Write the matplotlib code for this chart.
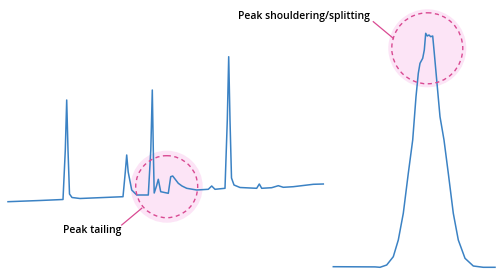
import matplotlib
matplotlib.use("Agg")
import matplotlib.pyplot as plt
from matplotlib.patches import Circle

# Left chromatogram trace (x, y in image units, y downward)
left_x = [8, 40, 63, 65.3, 66.7, 68, 69.5, 72, 80, 123, 125.3, 126.7, 128.2, 131.7, 136.7, 148.3,
          150.8, 152.3, 153.3, 154.2, 156.5, 158.3, 160.7, 168.3,
          170.7, 172.7, 175, 178.3, 182, 186.7, 196.7, 208.3, 211.7, 215, 225,
          227.3, 228.7, 230, 231.5, 234, 240, 256.7, 259.3, 261.7, 271.7, 278.3,
          283.3, 293.3, 313.3, 323.3]
left_y = [201.7, 200.5, 199.5, 150, 100, 150, 194, 197.5, 198.5, 196.7, 172, 155, 172, 190, 195, 195,
          150, 90, 150, 193, 186, 179.3, 191.7, 193.3,
          176.7, 176, 179, 183.3, 186, 188.3, 190, 189.3, 186, 189.3, 188.3,
          120, 56.7, 120, 178, 185, 187.5, 188.3, 184, 188.3, 187.7, 185.7,
          187.3, 186.7, 184.3, 184]

# Right single peak with shoulder/split top
right_x = [333.3, 375, 380, 386.7, 393.3, 398.3, 403.3, 408.3, 412.7, 416, 418.3, 420, 422.7,
           424.3, 425.7, 427.3, 429, 430.7, 432.7, 434.3, 436.7, 440, 444, 448.3,
           453.3, 458.3, 465, 473.3, 483.3, 495]
right_y = [266.7, 266.9, 267.3, 265, 256.7, 240, 213.3, 173.3, 140, 96.7, 73.3, 63.3, 58.3,
           50, 33.3, 36, 35, 36.7, 36, 53.3, 80, 116.7, 140, 173.3,
           213.3, 240, 258.3, 266, 267.3, 267.3]

labels = ["Peak tailing", "Peak shouldering/splitting"]

LINE = "#3b82c4"
FILL = "#fce4f6"
DASH = "#d94a92"

fig = plt.figure(figsize=(5, 2.8), dpi=100)
ax = fig.add_axes([0, 0, 1, 1])
ax.set_xlim(0, 500)
ax.set_ylim(280, 0)
ax.axis("off")

# highlight circles
for (cx, cy, r_fill, r_dash) in [(166.7, 186.7, 36, 31), (427.3, 48.3, 39, 35.5)]:
    ax.add_patch(Circle((cx, cy), r_fill, facecolor=FILL, edgecolor="none", zorder=1))
    ax.add_patch(Circle((cx, cy), r_dash, facecolor="none", edgecolor=DASH,
                        linestyle=(0, (3, 2.5)), linewidth=1.0, zorder=3))

ax.plot(left_x, left_y, color=LINE, linewidth=1.1, zorder=2, solid_joinstyle="round")
ax.plot(right_x, right_y, color=LINE, linewidth=1.1, zorder=2, solid_joinstyle="round")

# pointer lines
ax.plot([121.7, 141.7], [225, 208.3], color=DASH, linewidth=0.9, zorder=3)
ax.plot([373.3, 393.3], [21.7, 38.3], color=DASH, linewidth=0.9, zorder=3)

ax.text(63, 230, labels[0], fontsize=7.5, family="Open Sans", weight="semibold",
        va="center", ha="left", color="#000000")
ax.text(238, 17, labels[1], fontsize=7.5, family="Open Sans", weight="semibold",
        va="center", ha="left", color="#000000")

fig.savefig("out.png", dpi=100)
